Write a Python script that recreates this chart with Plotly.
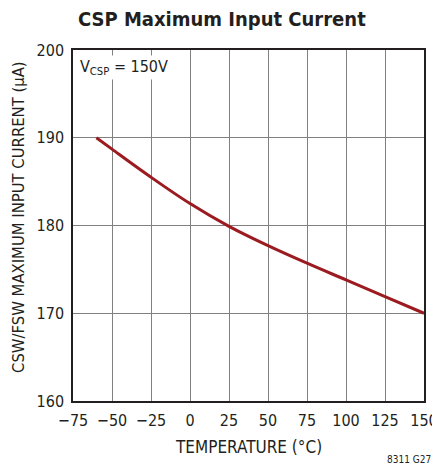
import plotly.graph_objects as go

temperature = [-60, -50, -25, 0, 25, 50, 75, 100, 125, 150]
current_ua = [190.0, 188.7, 185.5, 182.5, 179.9, 177.7, 175.7, 173.8, 171.9, 170.0]

x_ticks = [-75, -50, -25, 0, 25, 50, 75, 100, 125, 150]
y_ticks = [160, 170, 180, 190, 200]

FONT = "Liberation Sans Narrow, DejaVu Sans Condensed, Arial Narrow, sans-serif"
INK = "#231f20"

fig = go.Figure()
fig.add_trace(go.Scatter(
    x=temperature, y=current_ua, mode="lines",
    line=dict(color="#9b1b20", width=3, shape="spline", smoothing=1.0),
    showlegend=False, hoverinfo="skip",
))

fig.update_layout(
    width=432, height=460,
    margin=dict(l=65, r=16, t=42, b=67, autoexpand=False),
    paper_bgcolor="white", plot_bgcolor="white",
    font=dict(family=FONT, size=16, color=INK),
    title=dict(text="<b>CSP Maximum Input Current</b>", x=0.495, xanchor="center",
               xref="container", yref="container",
               y=0.976, yanchor="middle", font=dict(family=FONT, size=20, color=INK)),
    xaxis=dict(range=[-75, 150], tickvals=x_ticks, showgrid=True, gridcolor="#808080",
               gridwidth=1, zeroline=False, showline=True, linecolor=INK, linewidth=1.5,
               mirror=True, ticks="", tickfont=dict(size=16), ticklabelstandoff=4,
               automargin=False),
    yaxis=dict(range=[160, 200], tickvals=y_ticks, showgrid=True, gridcolor="#808080",
               gridwidth=1, zeroline=False, showline=True, linecolor=INK, linewidth=1.5,
               mirror=True, ticks="", tickfont=dict(size=16), ticklabelstandoff=4,
               automargin=False),
    annotations=[
        dict(text="V<sub>CSP</sub> = 150V", x=0.015, y=0.985, xref="paper", yref="paper",
             xanchor="left", yanchor="top", showarrow=False, font=dict(size=16),
             bgcolor="white"),
        dict(text="TEMPERATURE (°C)", x=0.5, y=-0.131, xref="paper", yref="paper",
             xanchor="center", yanchor="middle", showarrow=False, font=dict(size=17)),
        dict(text="CSW/FSW MAXIMUM INPUT CURRENT (μA)", x=-0.157, y=0.524,
             xref="paper", yref="paper", xanchor="center", yanchor="middle",
             textangle=-90, showarrow=False, font=dict(size=16.5)),
        dict(text="8311 G27", x=1.026, y=-0.168, xref="paper", yref="paper",
             xanchor="right", yanchor="middle", showarrow=False,
             font=dict(size=10)),
    ],
)

fig.write_html("out.html")
